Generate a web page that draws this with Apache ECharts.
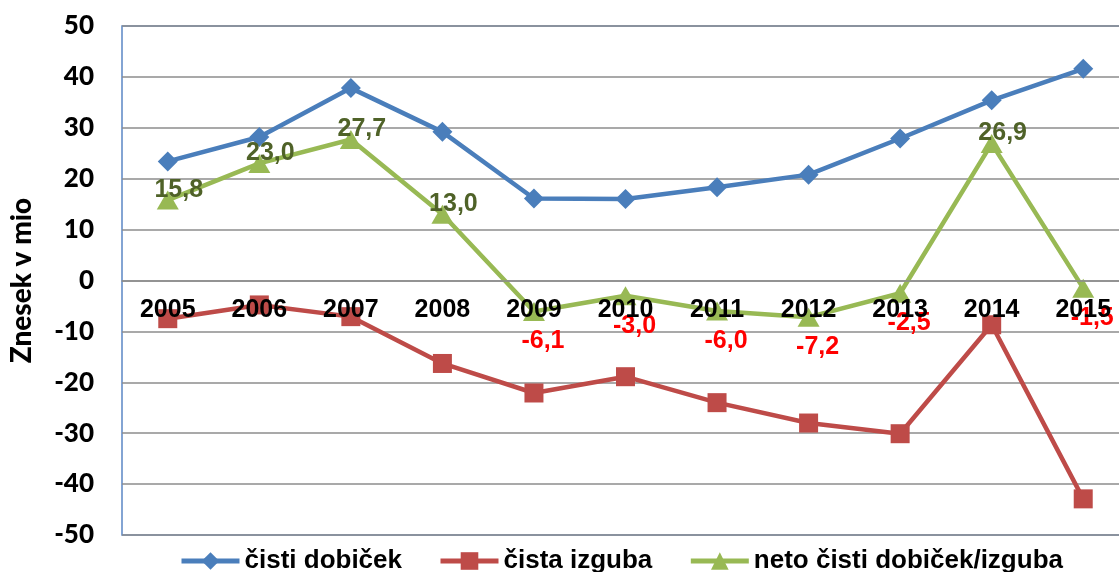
<!DOCTYPE html>
<html>
<head>
<meta charset="utf-8">
<script src="https://cdn.jsdelivr.net/npm/echarts@6/dist/echarts.min.js"></script>
<style>
	html,body{margin:0;padding:0;background:#fff;overflow:hidden;}
	#chart{width:1140px;height:572px;}
</style>
</head>
<body>
<div id="chart"></div>
<script>
var years = ['2005','2006','2007','2008','2009','2010','2011','2012','2013','2014','2015'];
var cistiDobicek = [23.4, 28.2, 37.8, 29.2, 16.1, 16.0, 18.3, 20.8, 27.9, 35.4, 41.6];
var cistaIzguba = [-7.5, -4.8, -7.1, -16.3, -22.1, -18.9, -24.0, -28.0, -30.1, -8.7, -42.9];
var netoDobicek = [15.8, 23.0, 27.7, 13.0, -6.1, -3.0, -6.0, -7.2, -2.5, 26.9, -1.5];
var seriesNames = ['čisti dobiček', 'čista izguba', 'neto čisti dobiček/izguba'];

var myChart = echarts.init(document.getElementById('chart'));

// green labels: positive above right in olive, negative below in red
var netoData = netoDobicek.map(function(v){
	if(v >= 0){
		return {value: v, label: {position: 'inside', offset: [11, -10], color: '#4F6228'}};
	}
	return {value: v, label: {position: 'inside', offset: [9, 30], color: '#FF0000'}};
});

myChart.setOption({
	animation: false,
	grid: {
		left: 122,
		right: 11,
		top: 26,
		bottom: 37,
		show: true,
		borderColor: '#5B87C5',
		borderWidth: 1.5
	},
	legend: {
		left: 174,
		top: 543,
		itemWidth: 58,
		itemHeight: 22,
		itemGap: 36,
		data: seriesNames,
		lineStyle: {width: 5},
		textStyle: {
			fontFamily: 'Liberation Sans, Arial',
			fontWeight: 'bold',
			fontSize: 26,
			color: '#000'
		}
	},
	xAxis: {
		type: 'category',
		data: years,
		z: 5,
		position: 'bottom',
		offset: -254,
		axisLine: {show: true, onZero: false, lineStyle: {color: '#8c8c8c', width: 1.5}},
		axisTick: {show: false},
		axisLabel: {
			margin: 17,
			fontFamily: 'Liberation Sans, Arial',
			fontWeight: 'bold',
			fontSize: 25,
			color: '#000'
		}
	},
	yAxis: {
		type: 'value',
		min: -50,
		max: 50,
		interval: 10,
		name: 'Znesek v mio',
		nameLocation: 'middle',
		nameGap: 86,
		nameTextStyle: {
			fontFamily: 'Lato',
			fontWeight: 900,
			fontSize: 28,
			color: '#000'
		},
		axisLine: {show: false},
		axisTick: {show: false},
		axisLabel: {
			margin: 28,
			fontFamily: 'Lato',
			fontWeight: 900,
			fontSize: 26,
			color: '#000'
		},
		splitLine: {lineStyle: {color: '#8c8c8c', width: 1.5}}
	},
	series: [{
		name: seriesNames[0],
		type: 'line',
		data: cistiDobicek,
		symbol: 'diamond',
		symbolSize: 20,
		color: '#4A7EBB',
		lineStyle: {width: 4.5, color: '#4A7EBB'},
		itemStyle: {color: '#4A7EBB'}
	},{
		name: seriesNames[1],
		type: 'line',
		data: cistaIzguba,
		symbol: 'rect',
		symbolSize: 19,
		color: '#BE4B48',
		lineStyle: {width: 4.5, color: '#BE4B48'},
		itemStyle: {color: '#BE4B48'}
	},{
		name: seriesNames[2],
		type: 'line',
		data: netoData,
		symbol: 'triangle',
		symbolSize: [22, 19],
		color: '#98B954',
		lineStyle: {width: 4.5, color: '#98B954'},
		itemStyle: {color: '#98B954'},
		label: {
			show: true,
			fontFamily: 'Liberation Sans, Arial',
			fontWeight: 'bold',
			fontSize: 25,
			formatter: function(p){
				return p.value.toFixed(1).replace('.', ',');
			}
		}
	}]
});
</script>
</body>
</html>
